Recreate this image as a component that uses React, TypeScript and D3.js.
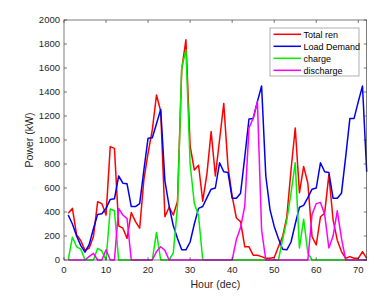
import React from 'react';
import * as d3 from 'd3';

// hourly values, hours 1..72
const hours = d3.range(1, 73);

const totalRen = [
  390, 430, 210, 160, 80, 100, 195, 485, 470, 375,
  945, 930, 285, 265, 180, 395, 320, 265, 670, 890,
  1085, 1375, 1240, 360, 440, 375, 490, 1590, 1835, 950,
  750, 790, 490, 720, 1070, 700, 1000, 1305, 780, 530,
  350, 320, 110, 110, 40, 40, 28, 14, 14, 20,
  110, 195, 360, 750, 1100, 560, 780, 640, 195, 125,
  360, 390, 710, 335, 165, 70, 14, 28, 14, 14,
  70, 14,
];

const loadDemand = [
  375, 300, 200, 120, 65, 130, 260, 380, 385, 430,
  505, 510, 700, 640, 635, 445, 445, 470, 750, 1015,
  1018, 1135, 1255, 660, 450, 285, 180, 85, 85, 150,
  300, 430, 446, 520, 590, 600, 810, 735, 730, 515,
  515, 557, 860, 1175, 1180, 1320, 1450, 700, 420, 280,
  180, 90, 85, 150, 300, 440, 455, 520, 590, 600,
  810, 735, 730, 515, 515, 557, 860, 1180, 1180, 1320,
  1450, 735,
];

const charge = [
  0, 190, 110, 90, 0, 0, 0, 97, 75, 0,
  425, 410, 0, 0, 0, 0, 0, 0, 0, 0,
  0, 230, 0, 0, 0, 60, 450, 1600, 1750, 800,
  470, 370, 0, 0, 0, 0, 0, 0, 0, 0,
  0, 0, 0, 0, 0, 0, 0, 0, 0, 0,
  0, 170, 330, 560, 810, 100, 340, 60, 0, 0,
  0, 0, 0, 0, 0, 0, 0, 0, 0, 0,
  0, 0,
];

const discharge = [
  0, 0, 0, 0, 0, 30, 55, 0, 0, 85,
  0, 0, 430, 375, 345, 0, 0, 0, 0, 0,
  0, 70, 110, 80, 0, 0, 0, 0, 0, 0,
  0, 0, 0, 0, 0, 0, 0, 0, 0, 0,
  170, 270, 450, 1100, 1180, 1320, 250, 0, 0, 0,
  0, 0, 0, 0, 0, 0, 0, 0, 380, 470,
  480, 380, 100, 200, 410, 180, 0, 0, 0, 0,
  0, 0,
];

const seriesNames = ['Total ren', 'Load Demand', 'charge', 'discharge'];
const seriesColors = ['#ff0000', '#0000f0', '#00ee00', '#ff00ff'];
const xTicks = [0, 10, 20, 30, 40, 50, 60, 70];
const yTicks = d3.range(0, 2001, 200);

const W = 392;
const H = 300;
const box = { left: 64, right: 366.7, top: 20, bottom: 260 };
const font = 'Arial, "Liberation Sans", sans-serif';
const axisColor = '#262626';

export default function App() {
  const x = d3.scaleLinear().domain([0, 72]).range([box.left, box.right]);
  const y = d3.scaleLinear().domain([0, 2000]).range([box.bottom, box.top]);
  const line = d3
    .line<number>()
    .x((_, i) => x(hours[i]))
    .y((d) => y(d));
  const all = [totalRen, loadDemand, charge, discharge];
  const tick = 3;

  const legX = 270;
  const legY = 28;

  return (
    <div style={{ position: 'absolute', left: 0, top: 0 }}>
      <svg width={W} height={H} style={{ display: 'block', background: '#fff' }}>
        <rect x={box.left} y={box.top} width={box.right - box.left} height={box.bottom - box.top} fill="#fff" />
        {all.map((s, i) => (
          <path key={i} d={line(s) || ''} fill="none" stroke={seriesColors[i]} strokeWidth={1.5} strokeLinejoin="round" />
        ))}
        {/* axes box */}
        <rect
          x={box.left}
          y={box.top}
          width={box.right - box.left}
          height={box.bottom - box.top}
          fill="none"
          stroke={axisColor}
          strokeWidth={0.6}
        />
        {xTicks.map((t) => (
          <g key={'x' + t}>
            <line x1={x(t)} x2={x(t)} y1={box.bottom} y2={box.bottom - tick} stroke={axisColor} strokeWidth={0.6} />
            <line x1={x(t)} x2={x(t)} y1={box.top} y2={box.top + tick} stroke={axisColor} strokeWidth={0.6} />
            <text x={x(t)} y={box.bottom + 13} fontSize={9.5} fontFamily={font} fill={axisColor} textAnchor="middle">
              {t}
            </text>
          </g>
        ))}
        {yTicks.map((t) => (
          <g key={'y' + t}>
            <line x1={box.left} x2={box.left + tick} y1={y(t)} y2={y(t)} stroke={axisColor} strokeWidth={0.6} />
            <line x1={box.right} x2={box.right - tick} y1={y(t)} y2={y(t)} stroke={axisColor} strokeWidth={0.6} />
            <text x={box.left - 4} y={y(t) + 3.3} fontSize={9.5} fontFamily={font} fill={axisColor} textAnchor="end">
              {t}
            </text>
          </g>
        ))}
        <text x={(box.left + box.right) / 2} y={288} fontSize={10.5} fontFamily={font} fill={axisColor} textAnchor="middle">
          Hour (dec)
        </text>
        <text
          transform={`translate(33,${(box.top + box.bottom) / 2}) rotate(-90)`}
          fontSize={10.5}
          fontFamily={font}
          fill={axisColor}
          textAnchor="middle"
        >
          Power (kW)
        </text>
        {/* legend */}
        <rect x={legX} y={legY} width={89} height={48} fill="#fff" stroke="#8c8c8c" strokeWidth={0.7} />
        {seriesNames.map((n, i) => (
          <g key={n}>
            <line
              x1={legX + 3.5}
              x2={legX + 31}
              y1={legY + 6.3 + i * 12}
              y2={legY + 6.3 + i * 12}
              stroke={seriesColors[i]}
              strokeWidth={1.5}
            />
            <text x={legX + 33.5} y={legY + 9.5 + i * 12} fontSize={9} fontFamily={font} fill="#000">
              {n}
            </text>
          </g>
        ))}
      </svg>
    </div>
  );
}
